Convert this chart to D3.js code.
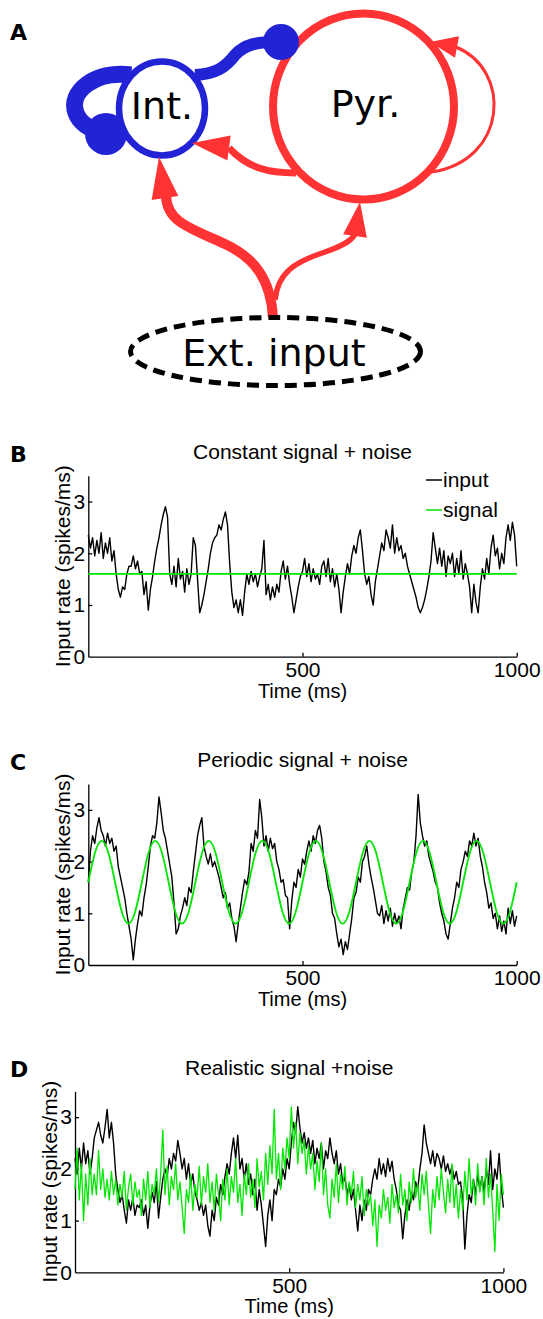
<!DOCTYPE html>
<html>
<head>
<meta charset="utf-8">
<script src="https://cdn.jsdelivr.net/npm/d3@7"></script>
<style>
  body { margin: 0; background: #fff; }
  svg { display: block; }
</style>
</head>
<body>
<script>
// samples of the noisy traces, one every 5 ms from 0 to 1000 ms
const dt = 5;

const inputB = [
  2.35, 2.1, 2.3, 1.95, 2.25, 2.0, 2.4, 1.9, 2.2, 2.0,
  2.3, 1.85, 2.05, 1.6, 1.3, 1.15, 1.35, 1.3, 1.6, 1.75,
  1.75, 1.95, 1.7, 1.85, 1.6, 1.65, 1.2, 1.45, 0.9, 1.3,
  1.55, 1.85, 2.1, 2.3, 2.55, 2.75, 2.9, 2.7, 1.6, 1.4,
  1.75, 1.35, 1.9, 1.5, 1.65, 1.25, 1.7, 1.4, 1.6, 2.3,
  2.15, 1.5, 0.85, 1.0, 1.2, 1.45, 1.7, 2.0, 2.2, 2.3,
  2.35, 2.55, 2.45, 2.65, 2.8, 2.55, 1.8, 1.25, 0.95, 1.1,
  0.85, 1.1, 0.8, 1.25, 1.6, 1.4, 1.65, 1.45, 1.6, 1.35,
  1.55, 1.7, 2.25, 1.2, 1.4, 1.1, 1.35, 1.15, 1.4, 1.25,
  1.65, 1.85, 1.5, 1.75, 1.4, 1.15, 0.85, 1.1, 1.35, 1.55,
  1.65, 1.9, 1.55, 1.8, 1.45, 1.7, 1.5, 1.6, 1.4, 1.75,
  1.85, 1.55, 1.9, 1.45, 1.7, 1.35, 1.6, 1.3, 0.85, 1.25,
  1.55, 1.8, 1.6, 1.95, 2.15, 2.0, 2.3, 2.45, 2.05, 1.6,
  1.4, 1.55, 1.2, 1.0, 1.45, 1.7, 1.95, 2.2, 2.05, 2.45,
  2.3, 2.1, 2.55, 2.0, 2.3, 2.05, 2.15, 1.9, 2.0, 1.75,
  1.6, 1.45, 1.3, 1.15, 0.95, 0.85, 0.95, 1.1, 1.3, 1.55,
  1.85, 2.4, 2.1, 1.8, 2.1, 1.75, 2.05, 1.55, 1.95, 1.8,
  2.0, 1.55, 1.9, 1.6, 2.05, 1.5, 1.8, 1.6, 1.35, 0.85,
  1.4, 1.05, 0.85, 1.35, 1.7, 1.5, 1.9, 1.6, 2.1, 2.35,
  1.95, 2.1, 1.7, 2.0, 1.8, 2.3, 2.55, 2.25, 2.6, 2.35, 1.75
];
const signalB = [1.6, 1.6];          // constant, one value at each end
const signalBStep = 1000;

const inputC = [
  1.6, 2.2, 2.5, 2.35, 2.65, 2.85, 2.6, 2.5, 2.3, 2.55,
  2.35, 2.45, 2.2, 2.3, 1.9, 1.7, 1.5, 1.3, 1.0, 0.75,
  0.5, 0.1, 0.5, 0.8, 1.05, 0.95, 1.3, 1.55, 1.9, 2.3,
  2.5, 2.45, 2.75, 3.25, 2.95, 2.6, 2.45, 2.2, 1.95, 1.7,
  1.2, 0.6, 0.7, 0.95, 1.1, 1.3, 1.15, 1.5, 1.4, 1.8,
  2.15, 2.5, 2.7, 2.85, 2.3, 2.1, 1.95, 2.15, 1.9, 2.0,
  1.85, 1.7, 1.5, 1.3, 1.4, 1.1, 1.2, 0.9, 0.75, 0.45,
  0.8, 1.1, 1.4, 1.65, 1.55, 1.8, 2.35, 2.2, 2.6, 2.45,
  3.2, 2.85, 2.3, 2.5, 2.2, 2.45, 2.25, 2.35, 2.0, 1.85,
  1.6, 1.65, 1.35, 1.3, 0.7, 1.25, 1.6, 1.5, 1.85, 1.7,
  2.05, 1.95, 2.2, 2.4, 2.2, 2.5, 2.35, 2.6, 2.7, 2.45,
  2.0, 1.8, 1.5, 1.35, 1.0, 0.9, 0.6, 0.35, 0.5, 0.2,
  0.45, 0.3, 0.6, 0.9, 1.3, 1.4, 1.7, 1.6, 2.0, 2.1,
  2.3, 1.95, 1.7, 1.5, 1.25, 1.0, 0.95, 1.15, 0.8, 1.05,
  0.85, 1.1, 0.75, 1.0, 0.8, 0.95, 0.7, 1.1, 1.3, 1.5,
  1.45, 1.8, 2.0, 2.5, 3.3, 2.75, 2.5, 2.3, 2.4, 2.1,
  1.95, 1.8, 1.6, 1.5, 1.2, 1.0, 0.85, 0.6, 0.5, 0.8,
  1.1, 1.3, 1.6, 1.5, 1.85, 2.0, 2.2, 2.1, 2.4, 2.3,
  2.55, 2.3, 2.45, 2.1, 1.9, 1.6, 1.4, 1.1, 1.2, 0.9,
  1.0, 0.7, 0.95, 0.65, 0.85, 0.6, 1.1, 0.8, 1.05, 0.75, 0.95
];
// 8 Hz periodic signal, read every 15.625 ms
const signalC = [
  1.6, 2.17, 2.4, 2.17, 1.6, 1.03, 0.8, 1.03,
  1.6, 2.17, 2.4, 2.17, 1.6, 1.03, 0.8, 1.03,
  1.6, 2.17, 2.4, 2.17, 1.6, 1.03, 0.8, 1.03,
  1.6, 2.17, 2.4, 2.17, 1.6, 1.03, 0.8, 1.03,
  1.6, 2.17, 2.4, 2.17, 1.6, 1.03, 0.8, 1.03,
  1.6, 2.17, 2.4, 2.17, 1.6, 1.03, 0.8, 1.03,
  1.6, 2.17, 2.4, 2.17, 1.6, 1.03, 0.8, 1.03,
  1.6, 2.17, 2.4, 2.17, 1.6, 1.03, 0.8, 1.03,
  1.6
];
const signalCStep = 15.625;

const inputD = [
  2.2, 1.9, 2.4, 2.0, 2.5, 2.1, 2.35, 1.9, 2.2, 2.6,
  2.75, 2.9, 2.65, 2.5, 2.8, 3.15, 2.6, 2.9, 2.5, 1.9,
  1.6, 1.35, 1.5, 1.2, 0.95, 1.4, 1.2, 1.45, 1.1, 1.3,
  1.25, 1.4, 1.1, 1.3, 0.85, 1.3, 1.55, 1.35, 1.75, 1.05,
  1.45, 1.8, 2.0, 1.85, 2.2, 2.0, 2.3, 2.15, 2.55, 2.3,
  2.0, 2.2, 1.8, 2.1, 1.7, 1.9, 1.55, 1.4, 1.2, 1.35,
  1.1, 1.3, 0.9, 0.7, 1.2, 1.0, 1.45, 1.3, 1.7, 1.5,
  1.85, 2.1, 1.9, 2.3, 2.6, 2.2, 2.65, 2.0, 2.2, 1.8,
  2.1, 1.7, 1.9, 1.5, 1.8, 1.2, 1.6, 1.3, 0.9, 0.5,
  1.1, 1.4, 1.0, 1.6, 1.5, 1.8, 1.65, 2.0, 1.8, 2.2,
  2.0, 2.5, 2.9, 2.7, 3.2, 2.8, 2.5, 2.7, 2.4, 2.6,
  2.3, 2.55, 2.1, 2.4, 2.2, 2.5, 2.0, 2.35, 2.2, 2.6,
  2.3, 2.1, 2.35, 1.9, 2.1, 1.7, 1.85, 1.5, 1.7, 1.4,
  1.6, 1.2, 0.8, 1.3, 1.0, 1.4, 1.2, 1.6, 1.5, 1.8,
  2.0, 1.8, 2.2, 1.9, 2.1, 1.85, 2.2, 1.95, 2.15, 1.8,
  1.6, 1.3, 1.2, 0.65, 1.1, 1.4, 1.2, 1.55, 1.4, 1.75,
  1.6, 2.0, 2.3, 2.85, 2.5, 2.3, 2.1, 2.35, 2.05, 2.3,
  2.2, 2.0, 2.25, 1.95, 2.1, 1.9, 2.05, 1.8, 1.95, 1.7,
  1.75, 1.4, 0.45, 1.1, 1.5, 1.35, 1.8, 1.5, 1.9, 1.6,
  1.85, 1.55, 2.0, 1.7, 2.35, 1.6, 2.0, 1.8, 2.3, 1.65, 1.25
];
const signalD = [
  1.6, 2.4, 1.4, 2.1, 1.0, 1.9, 1.3, 2.2, 1.5, 1.9,
  1.5, 2.35, 1.6, 2.0, 1.45, 1.8, 1.4, 1.95, 1.5, 1.8,
  1.3, 1.7, 1.45, 1.95, 1.2, 1.65, 1.9, 1.3, 1.75, 1.45,
  1.6, 1.1, 1.8, 1.4, 1.95, 1.25, 1.7, 1.5, 2.0, 1.35,
  1.9, 2.75, 1.5, 2.05, 1.3, 1.85, 1.6, 2.1, 1.4, 1.75,
  1.25, 0.75, 1.6, 1.35, 1.9, 1.2, 1.7, 1.45, 2.05, 1.3,
  1.85, 1.55, 2.1, 1.35, 1.75, 1.2, 1.9, 1.5, 1.0, 1.8,
  1.4, 2.0, 1.3, 1.85, 1.55, 2.2, 1.35, 1.7, 1.1, 1.9,
  1.5, 2.1, 1.45, 1.8, 1.25, 2.2, 1.65, 1.95, 1.4, 2.3,
  1.7, 2.45, 1.9, 3.15, 1.8, 2.3, 1.6, 2.4, 2.0, 2.6,
  2.2, 3.2, 2.4, 2.9, 2.1, 2.7, 2.3, 2.55, 1.9, 2.45,
  2.0, 2.3, 1.6, 2.15, 1.75, 2.5, 1.5, 2.0, 1.3, 1.05,
  1.8, 1.45, 2.1, 1.35, 1.9, 1.6, 2.05, 1.3, 1.75, 1.5,
  1.95, 1.25, 1.7, 1.4, 1.85, 1.1, 1.6, 1.3, 1.5, 0.9,
  1.4, 0.5, 1.3, 1.05, 1.6, 1.2, 1.45, 0.95, 1.7, 1.25,
  1.5, 1.15, 1.9, 1.3, 1.6, 1.0, 1.75, 1.35, 2.0, 1.45,
  1.7, 1.2, 1.9, 1.5, 1.95, 1.3, 0.75, 1.6, 1.25, 1.85,
  1.4, 2.0, 1.55, 1.15, 1.8, 1.35, 2.1, 1.25, 1.7, 1.05,
  1.6, 1.2, 1.95, 1.4, 2.2, 1.5, 1.8, 1.3, 2.1, 1.55,
  1.85, 1.3, 2.2, 1.45, 1.9, 1.2, 0.4, 1.7, 1.0, 1.9, 1.5
];

const xTicks = [500, 1000];
const yTicks = [0, 1, 2, 3];
const legendLabels = ["input", "signal"];

const red = "#ff3333";
const blue = "#2323d6";
const green = "#00e600";
const labelFont = "'Liberation Sans', Arial, sans-serif";
const diagFont = "'DejaVu Sans', sans-serif";

const svg = d3.select("body").append("svg")
  .attr("width", 543)
  .attr("height", 1319);

// ---------- panel A: network sketch ----------
const diag = svg.append("g");

function arrowHead(tip, base, halfW, color) {
  const dx = tip[0] - base[0], dy = tip[1] - base[1];
  const len = Math.hypot(dx, dy);
  const nx = -dy / len, ny = dx / len;
  diag.append("path")
    .attr("d", `M${tip[0]},${tip[1]}L${base[0] + nx * halfW},${base[1] + ny * halfW}L${base[0] - nx * halfW},${base[1] - ny * halfW}Z`)
    .attr("fill", color);
}

// red excitatory connections
const redLinks = [
  { d: "M273,318 C271,280 255,258 225,244 C190,228 167,222 166,196", w: 10 },
  { d: "M275,300 C278,272 295,262 325,252 C345,245 352,240 355,234", w: 5.5 },
  { d: "M296,173 C268,173 248,168 229,148", w: 7 },
  { d: "M432,172 C508,160 512,70 456,47", w: 3 }
];
diag.selectAll("path.red")
  .data(redLinks)
  .enter()
  .append("path")
  .attr("class", "red")
  .attr("d", (d) => d.d)
  .attr("fill", "none")
  .attr("stroke", red)
  .attr("stroke-width", (d) => d.w);

// external input
diag.append("ellipse")
  .attr("cx", 275.5).attr("cy", 351.5)
  .attr("rx", 145).attr("ry", 34)
  .attr("fill", "none")
  .attr("stroke", "#000")
  .attr("stroke-width", 5)
  .attr("stroke-dasharray", "12,7");

// cell populations
const cells = [
  { name: "Int.", cx: 162, cy: 108.5, rx: 43, ry: 47, color: blue, w: 6.5, ty: 119 },
  { name: "Pyr.", cx: 363.5, cy: 106.5, rx: 90.5, ry: 93, color: red, w: 8, ty: 117 }
];
diag.selectAll("ellipse.cell")
  .data(cells)
  .enter()
  .append("ellipse")
  .attr("class", "cell")
  .attr("cx", (d) => d.cx).attr("cy", (d) => d.cy)
  .attr("rx", (d) => d.rx).attr("ry", (d) => d.ry)
  .attr("fill", "none")
  .attr("stroke", (d) => d.color)
  .attr("stroke-width", (d) => d.w);

arrowHead([159, 157], [165, 198], 13.5, red);
arrowHead([360, 202], [355, 236], 12, red);
arrowHead([192, 143], [229, 148], 12.5, red);
arrowHead([430, 42], [457, 47], 11, red);

// blue inhibitory connections
const blueLinks = [
  { d: "M131,75 C95,70 68,92 76,113 C80,124 92,130 104,133", w: 17 },
  { d: "M195,75 C215,74 225,68 235,55 C245,44 258,42 275,42", w: 12 }
];
diag.selectAll("path.blue")
  .data(blueLinks)
  .enter()
  .append("path")
  .attr("class", "blue")
  .attr("d", (d) => d.d)
  .attr("fill", "none")
  .attr("stroke", blue)
  .attr("stroke-width", (d) => d.w);

diag.append("circle").attr("cx", 106).attr("cy", 134).attr("r", 21).attr("fill", blue);
diag.append("circle").attr("cx", 281).attr("cy", 42).attr("r", 18).attr("fill", blue);

diag.selectAll("text.cell")
  .data(cells)
  .enter()
  .append("text")
  .attr("class", "cell")
  .attr("x", (d) => d.cx + (d.name === "Pyr." ? 2 : 0))
  .attr("y", (d) => d.ty)
  .attr("text-anchor", "middle")
  .style("font-family", diagFont)
  .style("font-size", "38px")
  .text((d) => d.name);

diag.append("text")
  .attr("x", 274).attr("y", 366)
  .attr("text-anchor", "middle")
  .style("font-family", diagFont)
  .style("font-size", "38px")
  .text("Ext. input");

// ---------- panels B-D ----------
const panelLetters = [
  { t: "A", y: 40 },
  { t: "B", y: 462 },
  { t: "C", y: 770 },
  { t: "D", y: 1077 }
];
svg.selectAll("text.letter")
  .data(panelLetters)
  .enter()
  .append("text")
  .attr("class", "letter")
  .attr("x", 10)
  .attr("y", (d) => d.y)
  .style("font-family", diagFont)
  .style("font-weight", "bold")
  .style("font-size", "22px")
  .text((d) => d.t);

function drawPanel(opt) {
  const w = 428.4, h = 181;
  const x = d3.scaleLinear().domain([0, 1000]).range([opt.left, opt.left + w]);
  const y = d3.scaleLinear().domain([0, 3.5]).range([opt.bottom, opt.bottom - h]);
  const g = svg.append("g");

  const xAxis = g.append("g")
    .attr("transform", `translate(0,${opt.bottom})`)
    .call(d3.axisBottom(x).tickValues(xTicks).tickFormat(d3.format("d"))
      .tickSizeInner(-4).tickSizeOuter(0).tickPadding(5.5));
  const yAxis = g.append("g")
    .attr("transform", `translate(${opt.left},0)`)
    .call(d3.axisLeft(y).tickValues(yTicks).tickFormat(d3.format("d"))
      .tickSizeInner(-4).tickSizeOuter(0).tickPadding(3));

  [xAxis, yAxis].forEach((a) => {
    a.selectAll("path, line").attr("stroke", "#000").attr("stroke-width", 1.3);
    a.selectAll("text")
      .attr("fill", "#000")
      .style("font-family", labelFont)
      .style("font-size", "21px");
  });
  yAxis.selectAll(".tick").filter((d) => d === 0).select("line").remove();

  opt.series.forEach((s) => {
    const line = d3.line()
      .x((d, i) => x(i * s.step))
      .y((d) => y(d));
    if (s.curve) line.curve(s.curve);
    g.append("path")
      .datum(s.values)
      .attr("d", line)
      .attr("fill", "none")
      .attr("stroke", s.color)
      .attr("stroke-width", s.width)
      .attr("stroke-linejoin", "round");
  });

  g.append("text")
    .attr("x", opt.left + w / 2)
    .attr("y", opt.bottom - h - 16.7)
    .attr("text-anchor", "middle")
    .style("font-family", labelFont)
    .style("font-size", "21px")
    .text(opt.title);

  g.append("text")
    .attr("x", opt.left + w / 2)
    .attr("y", opt.bottom + 41)
    .attr("text-anchor", "middle")
    .style("font-family", labelFont)
    .style("font-size", "20px")
    .text("Time (ms)");

  g.append("text")
    .attr("transform", `translate(${opt.left - 18},${opt.bottom - h / 2}) rotate(-90)`)
    .attr("text-anchor", "middle")
    .style("font-family", labelFont)
    .style("font-size", "21px")
    .text("Input rate (spikes/ms)");

  if (opt.legend) {
    const lg = g.selectAll("g.legend")
      .data(opt.series)
      .enter()
      .append("g")
      .attr("class", "legend")
      .attr("transform", (d, i) => `translate(426,${480 + i * 30})`);
    lg.append("line")
      .attr("x1", 0).attr("x2", 16)
      .attr("stroke", (d) => d.color)
      .attr("stroke-width", 1.5);
    lg.append("text")
      .attr("x", 17).attr("y", 6.5)
      .style("font-family", labelFont)
      .style("font-size", "21px")
      .text((d, i) => legendLabels[i]);
  }
}

drawPanel({
  left: 88.3, bottom: 656.7, title: "Constant signal + noise", legend: true,
  series: [
    { values: inputB, step: dt, color: "#000", width: 1.4 },
    { values: signalB, step: signalBStep, color: green, width: 1.8 }
  ]
});

drawPanel({
  left: 88.3, bottom: 965, title: "Periodic signal + noise",
  series: [
    { values: inputC, step: dt, color: "#000", width: 1.4 },
    { values: signalC, step: signalCStep, color: green, width: 1.8, curve: d3.curveNatural }
  ]
});

drawPanel({
  left: 75, bottom: 1272.3, title: "Realistic signal +noise",
  series: [
    { values: inputD, step: dt, color: "#000", width: 1.4 },
    { values: signalD, step: dt, color: green, width: 1.3 }
  ]
});
</script>
</body>
</html>
